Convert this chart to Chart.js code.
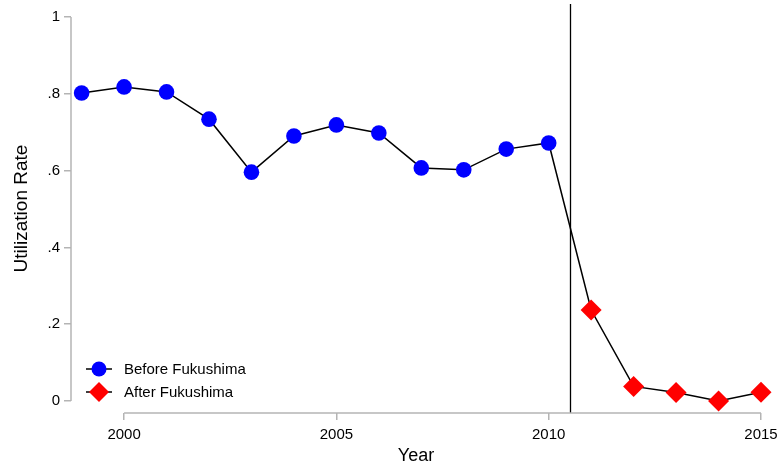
<!DOCTYPE html>
<html>
<head>
<meta charset="utf-8">
<script src="https://cdn.jsdelivr.net/npm/chart.js@4/dist/chart.umd.min.js"></script>
<style>
  html, body { margin: 0; padding: 0; background: #fff; }
  #wrap { width: 782px; height: 472px; }
</style>
</head>
<body>
<div id="wrap"><canvas id="c" width="782" height="472"></canvas></div>
<script>
// Reactor utilization rate by year, split at the Fukushima accident (2011)
const years       = [1999, 2000, 2001, 2002, 2003, 2004, 2005, 2006, 2007, 2008, 2009, 2010, 2011, 2012, 2013, 2014, 2015];
const beforeRates = [0.802, 0.818, 0.805, 0.734, 0.596, 0.690, 0.719, 0.698, 0.607, 0.602, 0.656, 0.672];
const afterRates  = [0.237, 0.038, 0.022, 0.000, 0.023];
const eventYear   = 2010.5;
const xTicks      = [2000, 2005, 2010, 2015];
const yTicks      = [0, 0.2, 0.4, 0.6, 0.8, 1];
const yTickLabels = ['0', '.2', '.4', '.6', '.8', '1'];
const seriesNames = ['Before Fukushima', 'After Fukushima'];

const BLUE = '#0000ff';
const RED = '#ff0000';
const AXIS = '#b4b4b4';
const FONT = '"Liberation Sans", Arial, sans-serif';

const allRates = beforeRates.concat(afterRates);
const points = years.map((y, i) => ({ x: y, y: allRates[i] }));
const isAfter = (i) => i >= beforeRates.length;

function diamond(ctx, x, y, r) {
  ctx.beginPath();
  ctx.moveTo(x, y - r);
  ctx.lineTo(x + r, y);
  ctx.lineTo(x, y + r);
  ctx.lineTo(x - r, y);
  ctx.closePath();
  ctx.fill();
}

// Axis lines that only span the labelled range, event line, and inset legend
const decorations = {
  id: 'decorations',
  beforeDatasetsDraw(chart) {
    const { ctx, chartArea, scales } = chart;
    const xs = scales.x;
    ctx.save();
    // vertical event marker
    const ex = Math.round(xs.getPixelForValue(eventYear)) + 0.5;
    ctx.strokeStyle = '#000';
    ctx.lineWidth = 1.3;
    ctx.beginPath();
    ctx.moveTo(ex, chartArea.top);
    ctx.lineTo(ex, chartArea.bottom);
    ctx.stroke();
    ctx.restore();
  },
  afterDraw(chart) {
    const { ctx, chartArea, scales } = chart;
    const xs = scales.x, ys = scales.y;
    ctx.save();
    ctx.strokeStyle = AXIS;
    ctx.lineWidth = 1.5;
    // y axis line from 0 to 1
    ctx.beginPath();
    ctx.moveTo(chartArea.left, ys.getPixelForValue(yTicks[0]));
    ctx.lineTo(chartArea.left, ys.getPixelForValue(yTicks[yTicks.length - 1]));
    ctx.stroke();
    // x axis line from first to last labelled year
    ctx.beginPath();
    ctx.moveTo(xs.getPixelForValue(xTicks[0]), chartArea.bottom);
    ctx.lineTo(xs.getPixelForValue(xTicks[xTicks.length - 1]), chartArea.bottom);
    ctx.stroke();

    // legend inside the plot, bottom left
    const lx = chartArea.left + 28;
    const rows = [chartArea.bottom - 44, chartArea.bottom - 21];
    ctx.font = '15px ' + FONT;
    ctx.textBaseline = 'middle';
    ctx.textAlign = 'left';
    rows.forEach((ry, k) => {
      ctx.strokeStyle = '#000';
      ctx.lineWidth = 1.5;
      ctx.beginPath();
      ctx.moveTo(lx - 13, ry);
      ctx.lineTo(lx + 13, ry);
      ctx.stroke();
      if (k === 0) {
        ctx.fillStyle = BLUE;
        ctx.beginPath();
        ctx.arc(lx, ry, 7.5, 0, Math.PI * 2);
        ctx.fill();
      } else {
        ctx.fillStyle = RED;
        diamond(ctx, lx, ry, 10);
      }
      ctx.fillStyle = '#000';
      ctx.fillText(seriesNames[k], lx + 25, ry + 1);
    });
    ctx.restore();
  }
};

new Chart(document.getElementById('c'), {
  type: 'line',
  data: {
    datasets: [{
      label: 'Utilization Rate',
      data: points,
      borderColor: '#000',
      borderWidth: 1.5,
      tension: 0,
      clip: false,
      pointStyle: (c) => isAfter(c.dataIndex) ? 'rectRot' : 'circle',
      pointRadius: (c) => isAfter(c.dataIndex) ? 10.5 : 7.8,
      pointBackgroundColor: (c) => isAfter(c.dataIndex) ? RED : BLUE,
      pointBorderColor: (c) => isAfter(c.dataIndex) ? RED : BLUE,
      pointBorderWidth: 0,
      pointHoverRadius: (c) => isAfter(c.dataIndex) ? 10.5 : 7.8
    }]
  },
  options: {
    responsive: false,
    animation: false,
    events: [],
    layout: { autoPadding: false, padding: { top: 4, right: 21, left: 0, bottom: 0 } },
    plugins: { legend: { display: false }, tooltip: { enabled: false } },
    scales: {
      x: {
        type: 'linear',
        min: 1998.75,
        max: 2015,
        afterBuildTicks: (s) => { s.ticks = xTicks.map(v => ({ value: v })); },
        afterFit: (s) => { s.height = 59; s.paddingLeft = 0; s.paddingRight = 0; },
        border: { display: false },
        grid: { display: true, drawOnChartArea: false, drawTicks: true, tickLength: 7, color: AXIS, lineWidth: 1.5 },
        ticks: { color: '#000', font: { family: FONT, size: 15 }, padding: 6, maxRotation: 0, autoSkip: false, callback: (v) => String(v) },
        title: { display: true, text: 'Year', color: '#000', font: { family: FONT, size: 18 }, padding: { top: 0, bottom: 5 } }
      },
      y: {
        type: 'linear',
        min: -0.03125,
        max: 1.0339,
        afterBuildTicks: (s) => { s.ticks = yTicks.map(v => ({ value: v })); },
        afterFit: (s) => { s.width = 71; s.paddingTop = 0; s.paddingBottom = 0; },
        border: { display: false },
        grid: { display: true, drawOnChartArea: false, drawTicks: true, tickLength: 7, color: AXIS, lineWidth: 1.5 },
        ticks: { color: '#000', font: { family: FONT, size: 15 }, padding: 4, autoSkip: false,
                 callback: (v) => { const i = yTicks.findIndex(t => Math.abs(t - v) < 1e-9); return i >= 0 ? yTickLabels[i] : ''; } },
        title: { display: true, text: 'Utilization Rate', color: '#000', font: { family: FONT, size: 19 }, padding: { top: 10, bottom: 0 } }
      }
    }
  },
  plugins: [decorations]
});
</script>
</body>
</html>
